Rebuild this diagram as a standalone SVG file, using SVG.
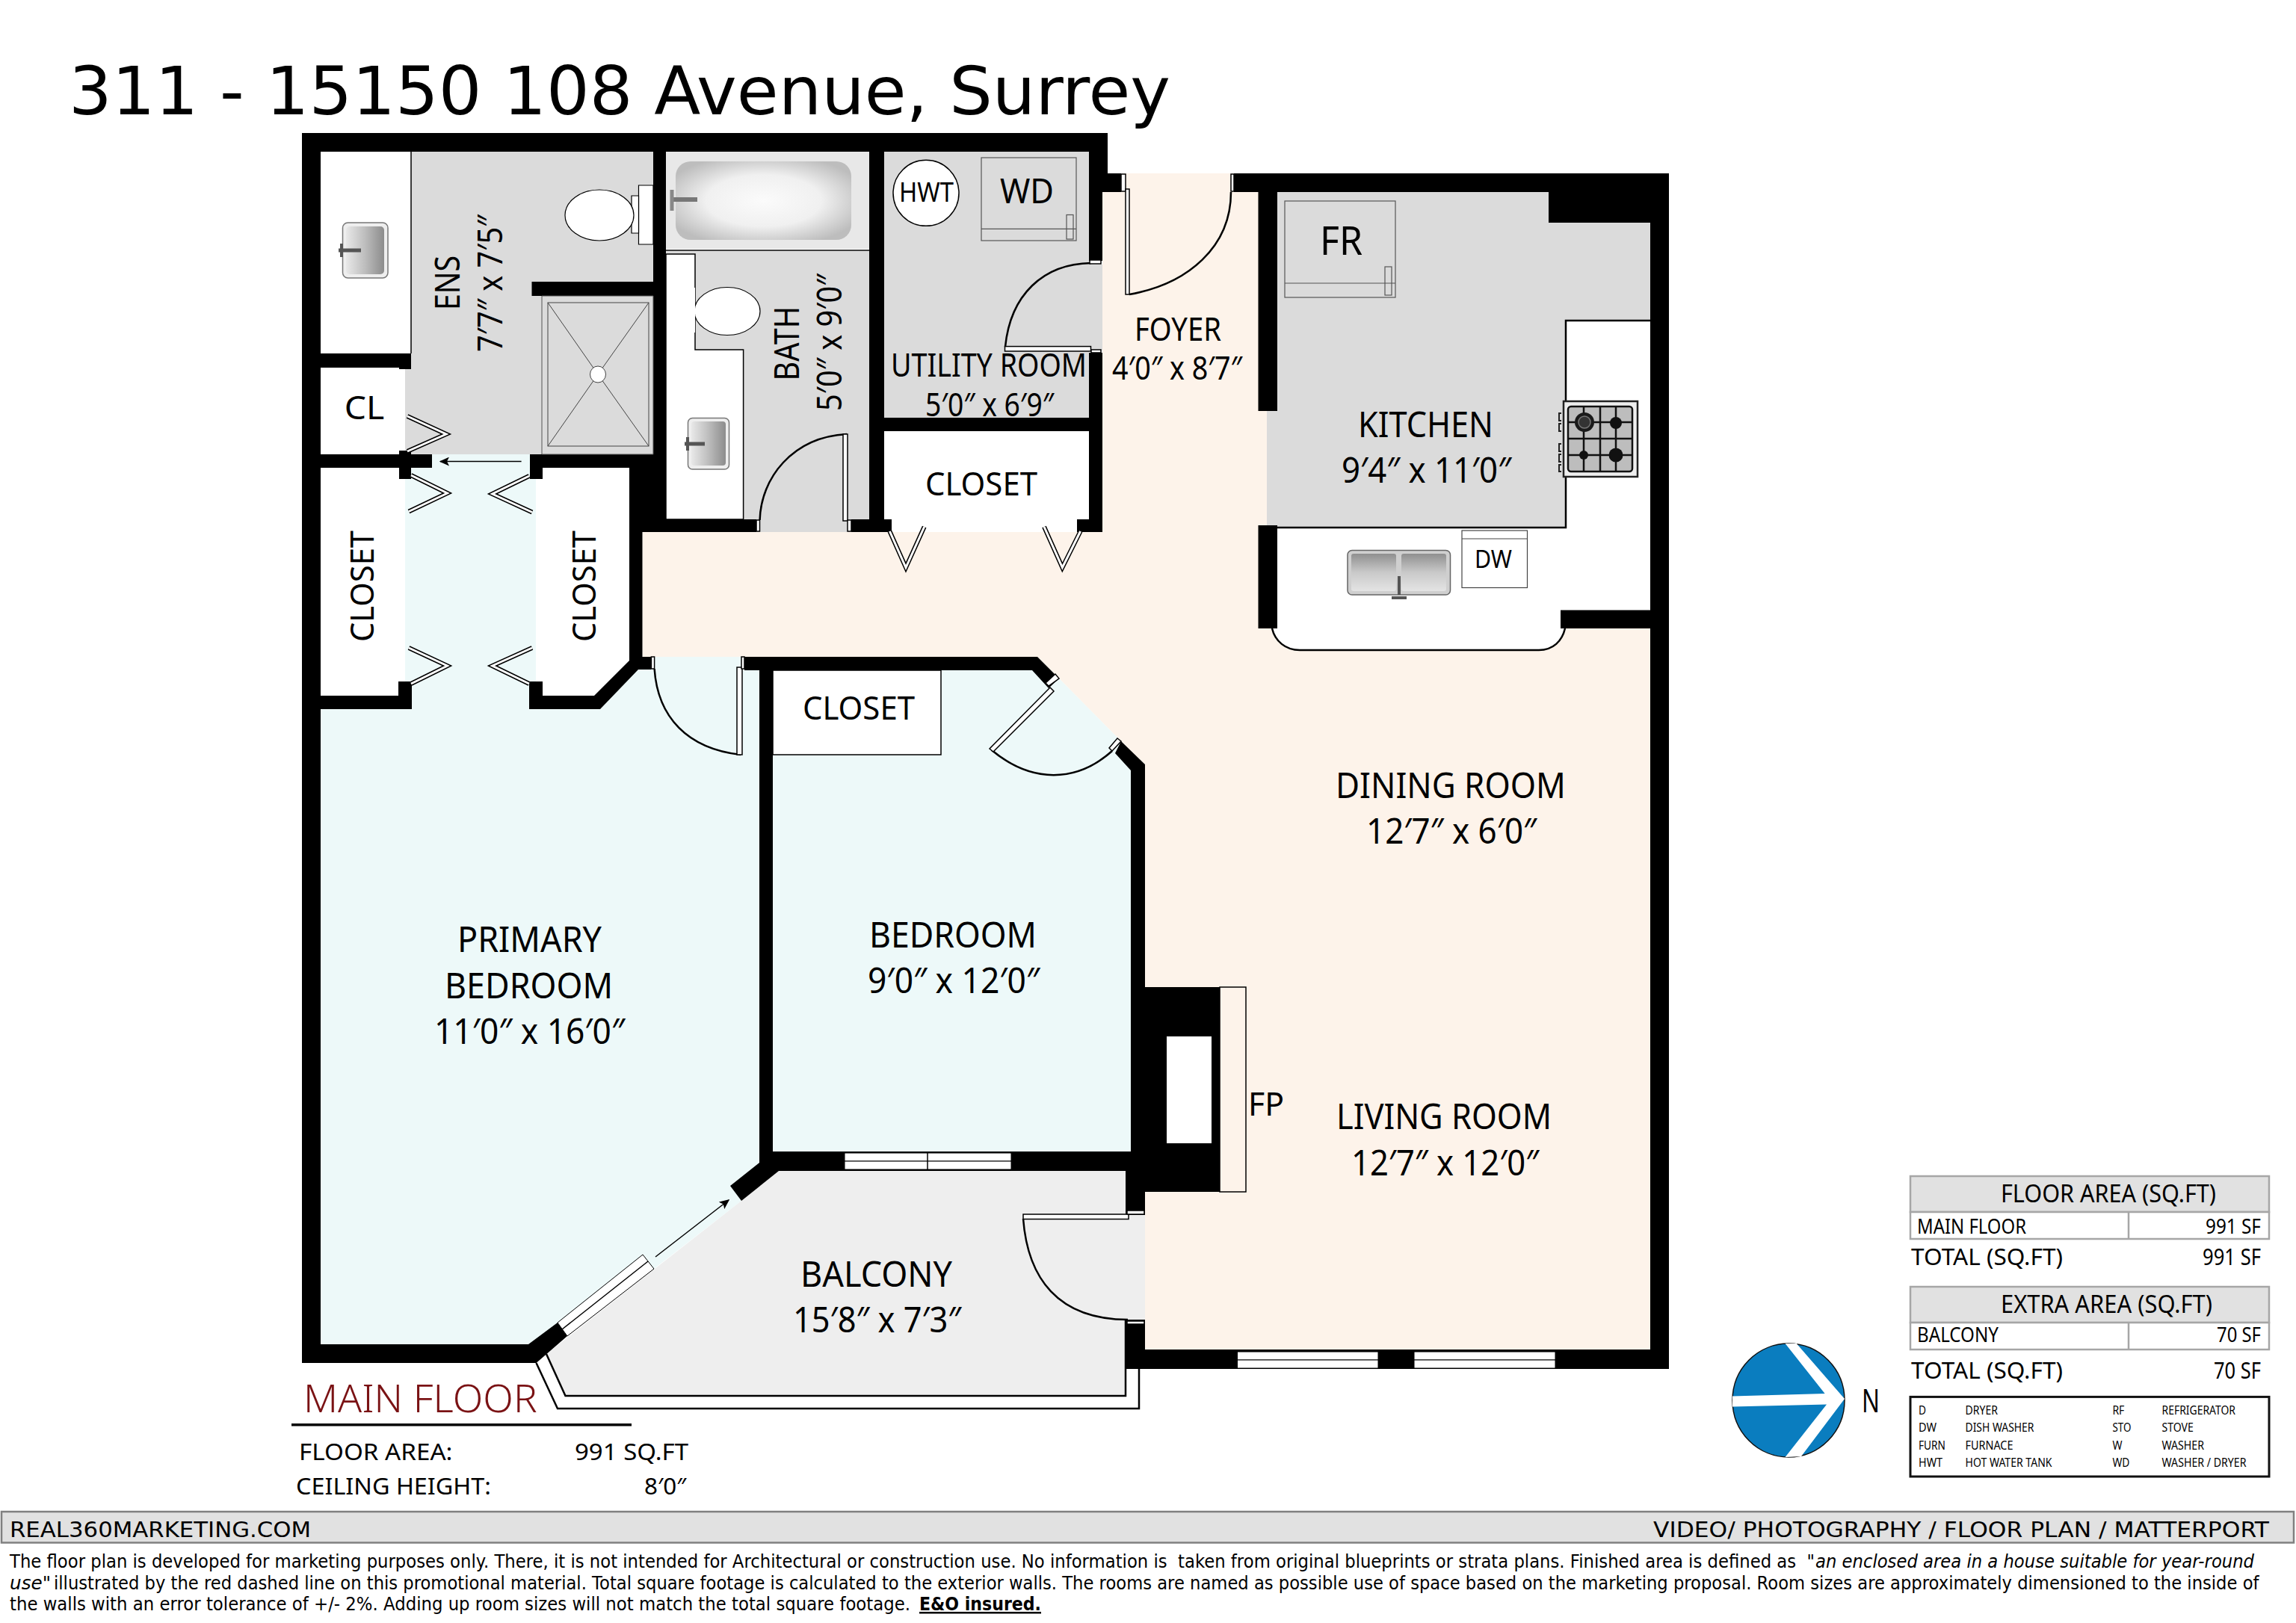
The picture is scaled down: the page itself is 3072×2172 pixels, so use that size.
<svg xmlns="http://www.w3.org/2000/svg" width="3072" height="2172" viewBox="0 0 3072 2172">
<style>
text{font-family:"Noto Sans","Open Sans","Liberation Sans",sans-serif;fill:#000}
.d{font-family:"DejaVu Sans","Liberation Sans",sans-serif;white-space:pre}
.l{font-size:45px}.m{font-size:44px}.s{font-size:31px}.k{font-size:33px}.g{font-size:16px}.h{font-size:27px}
.w{fill:#000}.line{fill:none;stroke:#000;stroke-width:1.5}.th{fill:none;stroke:#000;stroke-width:2.5}
.jamb{fill:#fff;stroke:#000;stroke-width:1.5}.bfo{fill:none;stroke:#000;stroke-width:6}.bfi{fill:none;stroke:#fff;stroke-width:3}
.win{fill:#fff;stroke:#000;stroke-width:1}.cell{fill:#fff;stroke:#a6a6a6;stroke-width:2.5}.head{fill:#e1e1e1;stroke:#a6a6a6;stroke-width:2.5}
</style>
<defs>
<radialGradient id="tub" cx="50%" cy="50%" r="60%"><stop offset="0" stop-color="#fbfbfb"/><stop offset=".55" stop-color="#f0f0f0"/><stop offset="1" stop-color="#bdbdbd"/></radialGradient>
<linearGradient id="sink" x1="0" y1="0" x2="0" y2="1"><stop offset="0" stop-color="#8f8f8f"/><stop offset=".5" stop-color="#c9c9c9"/><stop offset="1" stop-color="#e4e4e4"/></linearGradient>
<linearGradient id="sinkH" x1="0" y1="0" x2="1" y2="0"><stop offset="0" stop-color="#e8e8e8"/><stop offset=".5" stop-color="#bdbdbd"/><stop offset="1" stop-color="#8c8c8c"/></linearGradient>
<marker id="ah" markerWidth="9" markerHeight="8" refX="8" refY="4" orient="auto"><path d="M0 0L9 4L0 8L2 4Z" fill="#000"/></marker>
</defs>
<rect width="3072" height="2172" fill="#fff"/>
<text id="title" class="d" x="92" y="153" font-size="89" textLength="1474" lengthAdjust="spacingAndGlyphs">311 - 15150 108 Avenue, Surrey</text>

<g id="floors">
<path fill="#fdf3ea" d="M1475 232H1695V841H2208V1806H1532V1023L1500 992L1417 908L1388 879H859.5V712H1475Z"/>
<path fill="#edf9f9" d="M429 949H542V604H717V940H800L860 879H1016V1556L977 1587L992 1607L875 1698L707 1799H429Z"/>
<path fill="#edf9f9" d="M1034 897H1381L1417 908L1500 992L1513 1031V1541H1034Z"/>
<path fill="#dbdbdb" d="M550 203H874V608H542V492H550Z"/>
<rect x="891" y="336" width="274" height="376" fill="#dbdbdb"/>
<path fill="#dbdbdb" d="M1183 203H1457V354H1475V469H1457V559H1183Z"/>
<path fill="#dbdbdb" d="M1709 257H2072V298H2208V429H2095V706H1695V550H1709Z"/>
<path fill="#eeeeee" d="M1042 1567H1506V1626H1532V1766H1506V1868H756.5L731 1812L992 1607Z"/>
</g>

<g id="fixtures-white">
<rect x="429" y="203" width="121" height="270" fill="#fff"/>
<path class="line" d="M550 203V473"/>
<rect x="429" y="492" width="113" height="116" fill="#fff"/>
<rect x="429" y="626" width="113" height="305" fill="#fff"/>
<path fill="#fff" d="M717 626H842V884L795 931H717Z"/>
<path fill="#fff" stroke="#000" stroke-width="1.5" d="M891 340H930V468H994.6V695H891Z"/>
<rect x="1183" y="577" width="274" height="125" fill="#fff"/>
<rect x="1034" y="897" width="225" height="113" fill="#fff" stroke="#000" stroke-width="1.5"/>
<path fill="#fff" d="M2095 429H2208V816H2088V841H2094C2090 858 2078 870 2059 870H1739C1720 870 1706 858 1702 841H1700V706H2095Z"/>
<path class="th" d="M2208 429H2095V706H1695"/>
<path class="th" d="M1702 841C1706 858 1720 870 1739 870H2059C2078 870 2090 858 2094 841"/>
</g>

<g id="walls">
<path class="w" d="M404 178H1482V232H1500V257H1475V349H1457V203H429V1799H707L746 1770L759 1788L717.5 1824H404Z"/>
<rect class="w" x="874" y="203" width="17" height="509"/>
<rect class="w" x="1163" y="203" width="20" height="509"/>
<rect class="w" x="429" y="473" width="121" height="19"/>
<rect class="w" x="534" y="492" width="16" height="2"/>
<rect class="w" x="711.5" y="377" width="162.5" height="19"/>
<rect class="w" x="429" y="608" width="149" height="18"/>
<rect class="w" x="534" y="603" width="16" height="38"/>
<rect class="w" x="709" y="608" width="165" height="18"/>
<rect class="w" x="709" y="626" width="17" height="15"/>
<path class="w" d="M842 626H891V712H859.5V879H871V896H854L803 949H708V912H726V931H795L842 884Z"/>
<path class="w" d="M429 931H533V912H551V949H429Z"/>
<rect class="w" x="1183" y="559" width="274" height="18"/>
<rect class="w" x="891" y="695" width="121" height="17"/>
<rect class="w" x="1139" y="695" width="54" height="17"/>
<rect class="w" x="1457" y="472" width="18" height="240"/>
<rect class="w" x="1441" y="695" width="16" height="17"/>
<path class="w" d="M996 879H1388L1417 908L1403 921L1381 897H1034V1541H1513V1031L1492 1008L1500 992L1532 1023V1626H1506V1567H1042L992 1607L977 1587L1016 1556V897H996Z"/>
<path class="w" d="M1651 232H2233V1832H1506V1766H1532V1806H2208V298H2072V257H1651Z"/>
<rect class="w" x="1683.5" y="257" width="25.5" height="293"/>
<rect class="w" x="1683.5" y="703" width="25.5" height="138"/>
<rect class="w" x="2088" y="816.5" width="120" height="24.5"/>
<rect class="w" x="1532" y="1321" width="100" height="274"/>
<rect x="1632" y="1321" width="35" height="274" fill="#fdf3ea" stroke="#000" stroke-width="1.5"/>
<rect x="1561" y="1387" width="60" height="143" fill="#fff"/>
</g>

<g id="windows">
<rect class="win" x="1130" y="1543" width="223" height="11"/><rect class="win" x="1130" y="1554" width="223" height="11"/><path class="line" d="M1241 1543V1565"/>
<rect class="win" x="1655.5" y="1809" width="188.5" height="11"/><rect class="win" x="1655.5" y="1820" width="188.5" height="11"/>
<rect class="win" x="1892" y="1809" width="189" height="11"/><rect class="win" x="1892" y="1820" width="189" height="11"/>
<path class="win" stroke-width="1.5" d="M746 1770L860 1679L875 1698L759 1788Z"/>
<path class="line" d="M752 1779L867 1688"/>
</g>

<g id="balcony-rail">
<path class="th" fill="none" d="M717.5 1824L746 1885H1524V1832"/>
<path class="th" fill="none" d="M731 1812L756.5 1868H1506V1766"/>
</g>

<g id="doors">
<path class="th" d="M1511 394C1590 380 1647 330 1647 257"/>
<rect class="jamb" x="1500" y="233" width="6" height="23"/><rect class="jamb" x="1506" y="253" width="5" height="141"/><rect class="jamb" x="1647" y="233" width="4" height="23"/>
<path class="th" d="M1345 464C1352 395 1395 353 1460 352"/>
<rect class="jamb" x="1344.5" y="463.6" width="115" height="6.4"/><rect class="jamb" x="1458" y="348" width="15" height="5"/><rect class="jamb" x="1460" y="468" width="13" height="4"/>
<path class="th" d="M1016.6 696C1018 640 1060 585 1133 581"/>
<rect class="jamb" x="1012" y="696" width="4.5" height="15"/><rect class="jamb" x="1128" y="581" width="6" height="116"/><rect class="jamb" x="1134" y="696" width="5" height="15"/>
<path class="th" d="M875.6 895C880 960 920 1002 991 1010"/>
<rect class="jamb" x="871.4" y="879" width="4.2" height="16"/><rect class="jamb" x="986" y="893" width="7" height="117"/><rect class="jamb" x="992" y="879" width="4" height="16"/>
<path class="th" d="M1327 1004C1380 1048 1440 1048 1488 1005"/>
<path class="jamb" d="M1405 920L1410 925L1329 1006L1324 1002Z"/>
<path class="jamb" d="M1403 918L1417 908L1412 902L1399 914Z"/>
<path class="jamb" d="M1488 1005L1500 992L1495 988L1484 1001Z"/>
<path class="th" d="M1369 1631C1375 1710 1415 1766 1509 1766"/>
<rect class="jamb" x="1369" y="1625" width="141" height="6.5"/><rect class="jamb" x="1508" y="1620" width="23" height="5"/><rect class="jamb" x="1508" y="1768" width="23" height="4"/>
<path class="bfo" d="M545 557L597 581L545 604"/><path class="bfi" d="M545 557L597 581L545 604"/>
<path class="bfo" d="M550 636L598.5 660L547 684.5"/><path class="bfi" d="M550 636L598.5 660L547 684.5"/>
<path class="bfo" d="M708 637L658.7 661L712 685.5"/><path class="bfi" d="M708 637L658.7 661L712 685.5"/>
<path class="bfo" d="M547 867L598.5 891L550 915"/><path class="bfi" d="M547 867L598.5 891L550 915"/>
<path class="bfo" d="M712 867L658.7 891L708 915"/><path class="bfi" d="M712 867L658.7 891L708 915"/>
<path class="bfo" d="M1190.4 711L1212 759.5L1236.7 705"/><path class="bfi" d="M1190.4 711L1212 759.5L1236.7 705"/>
<path class="bfo" d="M1445.6 711L1421.4 759.5L1397 705"/><path class="bfi" d="M1445.6 711L1421.4 759.5L1397 705"/>
</g>

<g id="connectors">
<path class="line" marker-end="url(#ah)" stroke-width="1.5" d="M697.6 617.6H589"/>
<path class="line" marker-end="url(#ah)" stroke-width="1.5" d="M877 1682L975 1606"/>
</g>

<g id="ens-fixtures">
<rect x="458.5" y="298" width="60.5" height="74" rx="7" fill="#eee" stroke="#777" stroke-width="1.5"/>
<rect x="463" y="303" width="51" height="64" rx="5" fill="url(#sinkH)"/>
<path d="M453 335H483" stroke="#555" stroke-width="5" fill="none"/><path d="M457 326V344" stroke="#555" stroke-width="4" fill="none"/>
<path fill="#fff" stroke="#000" stroke-width="1.2" d="M854.5 248H874V327H854.5Z"/>
<path fill="#fff" stroke="#000" stroke-width="1.2" d="M845 262H854.5V312H845Z"/>
<ellipse cx="802" cy="288" rx="46" ry="34" fill="#fff" stroke="#000" stroke-width="1.2"/>
<path stroke="#555" stroke-width="1" fill="#dbdbdb" d="M725 396H874V608H725Z"/>
<rect x="733" y="405" width="135" height="192" fill="none" stroke="#444" stroke-width="1"/>
<path fill="none" stroke="#444" stroke-width="1" d="M733 405L800 501L868 405M733 597L800 501L868 597"/>
<ellipse cx="800" cy="501" rx="10.5" ry="11" fill="#fff" stroke="#444" stroke-width="1"/>
</g>
<g id="bath-fixtures">
<rect x="891" y="203" width="272" height="130" fill="#e8e8e8"/>
<path class="line" stroke="#444" d="M891 335H1165"/>
<rect x="904" y="216" width="235" height="105" rx="20" fill="url(#tub)"/>
<path d="M898 267H933" stroke="#777" stroke-width="6" fill="none"/><path d="M899 254V282" stroke="#888" stroke-width="5" fill="none"/>
<ellipse cx="973" cy="416.5" rx="44" ry="32" fill="#fff" stroke="#000" stroke-width="1.2"/>
<rect x="925" y="385" width="5" height="60" fill="#fff"/>
<rect x="920.5" y="559.5" width="55" height="68.5" rx="6" fill="#eee" stroke="#777" stroke-width="1.5"/>
<rect x="925" y="564" width="46" height="59" rx="4" fill="url(#sinkH)"/>
<path d="M916 594H943" stroke="#555" stroke-width="5" fill="none"/><path d="M920 585V603" stroke="#555" stroke-width="4" fill="none"/>
</g>
<g id="utility-fixtures">
<rect x="1313" y="211" width="127" height="111" fill="none" stroke="#555" stroke-width="1.2"/>
<path fill="none" stroke="#555" stroke-width="1.2" d="M1313 306.4H1440"/>
<rect x="1427" y="287.5" width="9" height="32.5" fill="none" stroke="#555" stroke-width="1.2"/>
<circle cx="1239" cy="258.3" r="44" fill="#fff" stroke="#000" stroke-width="1.5"/>
</g>
<g id="kitchen-fixtures">
<rect x="1719" y="269" width="148" height="129" fill="none" stroke="#555" stroke-width="1.2"/>
<path fill="none" stroke="#555" stroke-width="1.2" d="M1719 379H1867"/>
<rect x="1853" y="357" width="9" height="38" fill="none" stroke="#555" stroke-width="1.2"/>
<rect x="1956" y="710" width="87.5" height="76.5" fill="#fff" stroke="#444" stroke-width="1.2"/>
<path fill="none" stroke="#444" stroke-width="1.2" d="M1956 721H2043.5"/>
<rect x="1803" y="736.5" width="137.5" height="59.5" rx="6" fill="#cfcfcf" stroke="#666" stroke-width="1.5"/>
<rect x="1808" y="741" width="60" height="50" rx="3" fill="url(#sink)"/>
<rect x="1875" y="741" width="60" height="50" rx="3" fill="url(#sink)"/>
<path d="M1872 771V796M1862 800H1882" stroke="#555" stroke-width="4" fill="none"/>
<rect x="2092" y="537" width="99" height="101" fill="#eee" stroke="#222" stroke-width="2.5"/>
<rect x="2098" y="544" width="86" height="87" rx="4" fill="#bdbdbd" stroke="#111" stroke-width="2.5"/>
<path fill="none" stroke="#111" stroke-width="2.5" d="M2141 544V631M2098 587H2184M2119 544V631M2162 544V631M2098 565H2184M2098 609H2184"/>
<circle cx="2120" cy="565" r="13" fill="#1a1a1a"/><circle cx="2120" cy="565" r="8" fill="#333" stroke="#777" stroke-width="1.5"/>
<circle cx="2162" cy="566" r="8" fill="#111"/><circle cx="2119" cy="609" r="6" fill="#111"/><circle cx="2162" cy="609" r="9.5" fill="#111"/>
<path fill="none" stroke="#222" stroke-width="2" d="M2089 553h-3v10h3M2089 567h-3v10h3M2089 594h-3v10h3M2089 608h-3v10h3M2089 622h-3v9h3"/>
</g>

<g id="labels">
<g id="room-ens"><text class="l" transform="rotate(-90 614.7 415)" x="614.7" y="415" textLength="73" lengthAdjust="spacingAndGlyphs">ENS</text><text class="l" transform="rotate(-90 672 471)" x="672" y="471" textLength="183.5" lengthAdjust="spacingAndGlyphs">7′7″ x 7′5″</text></g>
<g id="room-bath"><text class="l" transform="rotate(-90 1069 509.5)" x="1069" y="509.5" textLength="99.5" lengthAdjust="spacingAndGlyphs">BATH</text><text class="l" transform="rotate(-90 1126 550)" x="1126" y="550" textLength="183.4" lengthAdjust="spacingAndGlyphs">5′0″ x 9′0″</text></g>
<g id="room-utility"><text x="1203" y="269.7" style="font-size:36px" textLength="73" lengthAdjust="spacingAndGlyphs">HWT</text><text class="l" x="1338" y="272" textLength="72" lengthAdjust="spacingAndGlyphs">WD</text><text class="m" x="1192" y="504" textLength="262" lengthAdjust="spacingAndGlyphs">UTILITY ROOM</text><text class="m" x="1238" y="557" textLength="172" lengthAdjust="spacingAndGlyphs">5′0″ x 6′9″</text></g>
<g id="room-cl"><text class="m" x="460.7" y="560.5" textLength="53.5" lengthAdjust="spacingAndGlyphs">CL</text></g>
<g id="room-closet-1"><text class="m" x="1238" y="662.5" textLength="150" lengthAdjust="spacingAndGlyphs">CLOSET</text></g>
<g id="room-closet-2"><text class="m" transform="rotate(-90 499.5 859)" x="499.5" y="859" textLength="149" lengthAdjust="spacingAndGlyphs">CLOSET</text></g>
<g id="room-closet-3"><text class="m" transform="rotate(-90 796.6 859)" x="796.6" y="859" textLength="149" lengthAdjust="spacingAndGlyphs">CLOSET</text></g>
<g id="room-closet-4"><text class="m" x="1074" y="963" textLength="150" lengthAdjust="spacingAndGlyphs">CLOSET</text></g>
<g id="room-foyer"><text class="m" x="1518" y="456" textLength="116" lengthAdjust="spacingAndGlyphs">FOYER</text><text class="m" x="1488" y="508" textLength="174" lengthAdjust="spacingAndGlyphs">4′0″ x 8′7″</text></g>
<g id="room-kitchen"><text style="font-size:53px" x="1766" y="340.5" textLength="57" lengthAdjust="spacingAndGlyphs">FR</text><text class="k" x="1973" y="760" textLength="50" lengthAdjust="spacingAndGlyphs">DW</text><text style="font-size:47px" x="1817" y="585" textLength="181" lengthAdjust="spacingAndGlyphs">KITCHEN</text><text style="font-size:47px" x="1795" y="645.5" textLength="227" lengthAdjust="spacingAndGlyphs">9′4″ x 11′0″</text></g>
<g id="room-primary"><text style="font-size:47px" x="612" y="1274" textLength="193" lengthAdjust="spacingAndGlyphs">PRIMARY</text><text style="font-size:47px" x="595" y="1336" textLength="225" lengthAdjust="spacingAndGlyphs">BEDROOM</text><text style="font-size:47px" x="581" y="1397" textLength="255" lengthAdjust="spacingAndGlyphs">11′0″ x 16′0″</text></g>
<g id="room-bedroom"><text style="font-size:47px" x="1163" y="1268" textLength="224" lengthAdjust="spacingAndGlyphs">BEDROOM</text><text style="font-size:47px" x="1161" y="1329" textLength="230" lengthAdjust="spacingAndGlyphs">9′0″ x 12′0″</text></g>
<g id="room-dining"><text style="font-size:47px" x="1787" y="1068" textLength="308" lengthAdjust="spacingAndGlyphs">DINING ROOM</text><text style="font-size:47px" x="1828" y="1129" textLength="228" lengthAdjust="spacingAndGlyphs">12′7″ x 6′0″</text></g>
<g id="room-living"><text class="m" x="1670" y="1492.5" textLength="48" lengthAdjust="spacingAndGlyphs">FP</text><text style="font-size:47px" x="1788" y="1510.6" textLength="288" lengthAdjust="spacingAndGlyphs">LIVING ROOM</text><text style="font-size:47px" x="1808" y="1572.6" textLength="251" lengthAdjust="spacingAndGlyphs">12′7″ x 12′0″</text></g>
<g id="room-balcony"><text style="font-size:47px" x="1071" y="1722" textLength="203" lengthAdjust="spacingAndGlyphs">BALCONY</text><text style="font-size:47px" x="1061" y="1783" textLength="225" lengthAdjust="spacingAndGlyphs">15′8″ x 7′3″</text></g>
</g>

<g id="floor-info">
<text style="font-size:52px;fill:#7a1214;font-weight:300" x="406" y="1890" textLength="312.6" lengthAdjust="spacingAndGlyphs">MAIN FLOOR</text>
<rect x="390" y="1905" width="455" height="3.5" fill="#000"/>
<text class="s" x="400" y="1954" textLength="205.5" lengthAdjust="spacingAndGlyphs">FLOOR AREA:</text>
<text class="s" x="769" y="1954" textLength="152" lengthAdjust="spacingAndGlyphs">991 SQ.FT</text>
<text class="s" x="396" y="2000" textLength="261" lengthAdjust="spacingAndGlyphs">CEILING HEIGHT:</text>
<text class="s" x="862" y="2000" textLength="56" lengthAdjust="spacingAndGlyphs">8′0″</text>
</g>

<g id="compass">
<ellipse cx="2393" cy="1874" rx="75" ry="76" fill="#0a7dbf" stroke="#111" stroke-width="1.5"/>
<path fill="#fff" d="M2388.6 1798H2403.7L2468 1872L2410 1949L2388.6 1950L2444 1879.6L2318 1882.6V1868.4L2441.6 1865Z"/>
<text class="m" x="2491" y="1890" textLength="24" lengthAdjust="spacingAndGlyphs">N</text>
</g>

<g id="area-tables">
<rect class="head" x="2556" y="1574" width="480" height="48"/>
<text style="font-size:32px" x="2677" y="1609" textLength="288" lengthAdjust="spacingAndGlyphs">FLOOR AREA (SQ.FT)</text>
<rect class="cell" x="2556" y="1622" width="480" height="36"/><path d="M2848 1622V1658" stroke="#a6a6a6" stroke-width="2.5"/>
<text class="h" x="2565" y="1651.4" textLength="146" lengthAdjust="spacingAndGlyphs">MAIN FLOOR</text>
<text class="h" x="2951" y="1651.4" textLength="74" lengthAdjust="spacingAndGlyphs">991 SF</text>
<text class="s" x="2557" y="1692.6" textLength="203" lengthAdjust="spacingAndGlyphs">TOTAL (SQ.FT)</text>
<text class="s" x="2947" y="1692.6" textLength="78" lengthAdjust="spacingAndGlyphs">991 SF</text>
<rect class="head" x="2556" y="1722" width="480" height="48"/>
<text style="font-size:32px" x="2677" y="1757" textLength="283" lengthAdjust="spacingAndGlyphs">EXTRA AREA (SQ.FT)</text>
<rect class="cell" x="2556" y="1770" width="480" height="36"/><path d="M2848 1770V1806" stroke="#a6a6a6" stroke-width="2.5"/>
<text class="h" x="2565" y="1796" textLength="109" lengthAdjust="spacingAndGlyphs">BALCONY</text>
<text class="h" x="2966" y="1796" textLength="59" lengthAdjust="spacingAndGlyphs">70 SF</text>
<text class="s" x="2557" y="1845" textLength="203" lengthAdjust="spacingAndGlyphs">TOTAL (SQ.FT)</text>
<text class="s" x="2962" y="1845" textLength="63" lengthAdjust="spacingAndGlyphs">70 SF</text>
</g>

<g id="legend">
<rect x="2556" y="1869.4" width="480" height="106.6" fill="#fff" stroke="#111" stroke-width="3"/>
<text class="g" x="2567" y="1893" textLength="10" lengthAdjust="spacingAndGlyphs">D</text><text class="g" x="2629.5" y="1893" textLength="43.4" lengthAdjust="spacingAndGlyphs">DRYER</text><text class="g" x="2826.4" y="1893" textLength="16" lengthAdjust="spacingAndGlyphs">RF</text><text class="g" x="2892.5" y="1893" textLength="98.5" lengthAdjust="spacingAndGlyphs">REFRIGERATOR</text>
<text class="g" x="2567" y="1916" textLength="24" lengthAdjust="spacingAndGlyphs">DW</text><text class="g" x="2629.5" y="1916" textLength="92" lengthAdjust="spacingAndGlyphs">DISH WASHER</text><text class="g" x="2826.4" y="1916" textLength="25" lengthAdjust="spacingAndGlyphs">STO</text><text class="g" x="2892.5" y="1916" textLength="42.4" lengthAdjust="spacingAndGlyphs">STOVE</text>
<text class="g" x="2567" y="1939.5" textLength="36" lengthAdjust="spacingAndGlyphs">FURN</text><text class="g" x="2629.5" y="1939.5" textLength="64" lengthAdjust="spacingAndGlyphs">FURNACE</text><text class="g" x="2826.4" y="1939.5" textLength="13" lengthAdjust="spacingAndGlyphs">W</text><text class="g" x="2892.5" y="1939.5" textLength="56.5" lengthAdjust="spacingAndGlyphs">WASHER</text>
<text class="g" x="2567" y="1962.5" textLength="32" lengthAdjust="spacingAndGlyphs">HWT</text><text class="g" x="2629.5" y="1962.5" textLength="116" lengthAdjust="spacingAndGlyphs">HOT WATER TANK</text><text class="g" x="2826.4" y="1962.5" textLength="23" lengthAdjust="spacingAndGlyphs">WD</text><text class="g" x="2892.5" y="1962.5" textLength="113" lengthAdjust="spacingAndGlyphs">WASHER / DRYER</text>
</g>

<g id="footer">
<rect x="2" y="2023" width="3067" height="41.5" fill="#e1e1e1" stroke="#808080" stroke-width="2.5"/>
<text class="d" font-size="29" x="13" y="2057" textLength="403" lengthAdjust="spacingAndGlyphs">REAL360MARKETING.COM</text>
<text class="d" font-size="29" x="2212" y="2057" textLength="824" lengthAdjust="spacingAndGlyphs">VIDEO/ PHOTOGRAPHY / FLOOR PLAN / MATTERPORT</text>
<text class="d" font-size="25" x="13" y="2098" textLength="2415" lengthAdjust="spacingAndGlyphs">The floor plan is developed for marketing purposes only. There, it is not intended for Architectural or construction use. No information is  taken from original blueprints or strata plans. Finished area is defined as  "</text>
<text class="d" font-size="25" font-style="italic" x="2429" y="2098" textLength="587" lengthAdjust="spacingAndGlyphs">an enclosed area in a house suitable for year-round</text>
<text class="d" font-size="25" font-style="italic" x="13" y="2127" textLength="55" lengthAdjust="spacingAndGlyphs">use"</text>
<text class="d" font-size="25" x="72" y="2127" textLength="2950.5" lengthAdjust="spacingAndGlyphs">illustrated by the red dashed line on this promotional material. Total square footage is calculated to the exterior walls. The rooms are named as possible use of space based on the marketing proposal. Room sizes are approximately dimensioned to the inside of</text>
<text class="d" font-size="25" x="13" y="2155" textLength="1205" lengthAdjust="spacingAndGlyphs">the walls with an error tolerance of +/- 2%. Adding up room sizes will not match the total square footage.</text>
<text class="d" font-size="25" font-weight="bold" x="1230" y="2155" textLength="163" lengthAdjust="spacingAndGlyphs" text-decoration="underline">E&amp;O insured.</text>
</g>
</svg>
